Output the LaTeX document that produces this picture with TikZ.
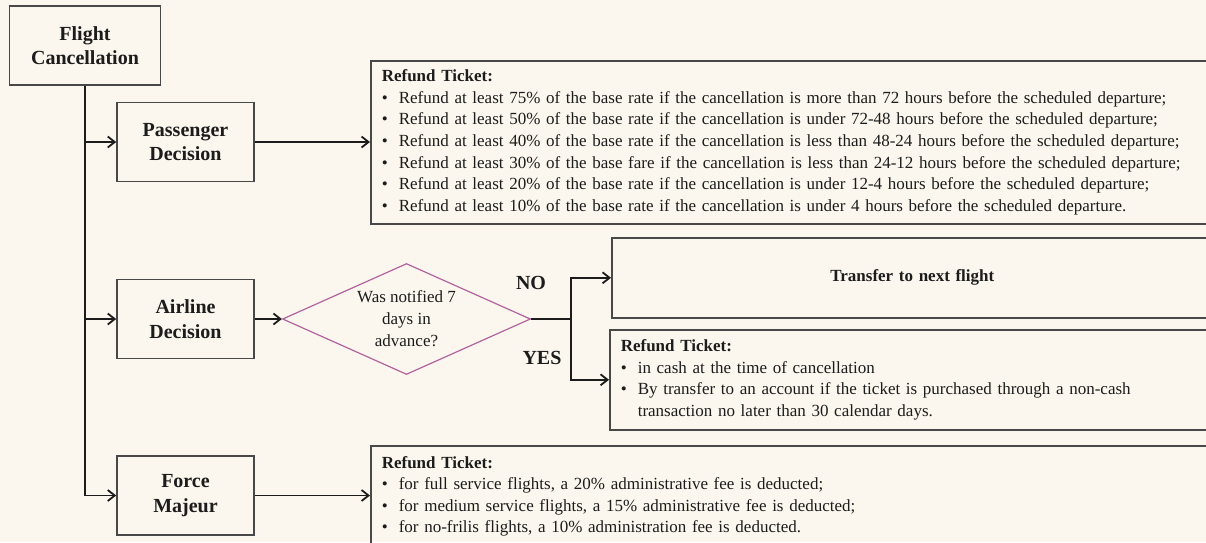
\documentclass[tikz,border=0pt]{standalone}
\usepackage{fontspec}
\setmainfont{Liberation Serif}
\usetikzlibrary{arrows.meta,shapes.geometric}
\definecolor{paper}{RGB}{251,247,238}
\definecolor{frame}{RGB}{72,72,72}
\definecolor{ink}{RGB}{28,28,28}
\definecolor{plum}{RGB}{178,98,158}
\tikzstyle{stage}=[rectangle, draw=frame, line width=1.6pt, inner sep=0pt,
  minimum width=137pt, minimum height=79pt, align=center, text=ink,
  font=\fontsize{20}{24.5}\selectfont\bfseries]
\tikzstyle{infobox}=[rectangle, draw=frame, line width=1.6pt, anchor=north west,
  inner xsep=11pt, inner ysep=0pt, align=left, text=ink,
  font=\fontsize{17}{21.6}\selectfont]
\tikzstyle{question}=[diamond, draw=plum, line width=1.2pt, aspect=2.2, inner sep=0pt,
  minimum width=248pt, minimum height=111pt, align=center, text=ink,
  font=\fontsize{17}{22}\selectfont]
\tikzstyle{conn}=[draw=ink, line width=1.8pt, -{Straight Barb[length=7pt,width=11pt]}]
\newcommand{\stage}{\node[stage]}
\newcommand{\infobox}{\node[infobox]}
\newcommand{\bul}{\makebox[17pt][l]{\textbullet}}

\begin{document}
\begin{tikzpicture}[x=1pt, y=-1pt]
\useasboundingbox (0,0) rectangle (1206,542);
\clip (0,0) rectangle (1206,542);
\fill[paper] (0,0) rectangle (1206,542);

\stage[minimum width=151pt] (flight) at (85,45.5) {Flight\\Cancellation};
\stage (passenger) at (185.5,142) {Passenger\\Decision};
\stage (airline)   at (185.5,319) {Airline\\Decision};
\stage (force)     at (185.5,495.5) {Force\\Majeur};
\node[question] (notified) at (406.5,319) {Was notified 7\\days in\\advance?};

\infobox[minimum width=842pt, minimum height=163pt, text width=820pt] (refund1) at (370,60) {%
\textbf{Refund Ticket:}\\
\bul Refund at least 75\% of the base rate if the cancellation is more than 72 hours before the scheduled departure;\\
\bul Refund at least 50\% of the base rate if the cancellation is under 72-48 hours before the scheduled departure;\\
\bul Refund at least 40\% of the base rate if the cancellation is less than 48-24 hours before the scheduled departure;\\
\bul Refund at least 30\% of the base fare if the cancellation is less than 24-12 hours before the scheduled departure;\\
\bul Refund at least 20\% of the base rate if the cancellation is under 12-4 hours before the scheduled departure;\\
\bul Refund at least 10\% of the base rate if the cancellation is under 4 hours before the scheduled departure.};
\infobox[minimum width=601pt, minimum height=80pt, align=center, text width=579pt,
  font=\fontsize{17}{21.6}\selectfont\bfseries] (transfer) at (611,237) {Transfer to next flight};
\infobox[minimum width=603pt, minimum height=100pt, text width=581pt] (refund2) at (609,329) {%
\textbf{Refund Ticket:}\\
\bul in cash at the time of cancellation\\
\bul By transfer to an account if the ticket is purchased through a non-cash\\
\hspace*{17pt}transaction no later than 30 calendar days.};
\infobox[minimum width=842pt, minimum height=101pt, text width=820pt] (refund3) at (370,445) {%
\textbf{Refund Ticket:}\\
\bul for full service flights, a 20\% administrative fee is deducted;\\
\bul for medium service flights, a 15\% administrative fee is deducted;\\
\bul for no-frilis flights, a 10\% administration fee is deducted.};

\node[font=\fontsize{20}{24}\selectfont\bfseries, text=ink] (no)  at (531,283) {NO};
\node[font=\fontsize{20}{24}\selectfont\bfseries, text=ink] (yes) at (542,358) {YES};
\coordinate (split) at (571,319);

% trunk and branches
\draw[conn] (flight.south) |- (force.west);
\draw[conn] (flight.south |- passenger.west) -- (passenger.west);
\draw[conn] (flight.south |- airline.west) -- (airline.west);
\path
(passenger.east) edge[conn] (refund1.west |- passenger.east)
(airline.east)   edge[conn] (notified.west)
(force.east)     edge[conn] (refund3.west |- force.east)
;
\draw[conn, -] (notified.east) -- (split);
\draw[conn] (split) |- (transfer.west);
\draw[conn] (split) |- (refund2.west);
\end{tikzpicture}
\end{document}
